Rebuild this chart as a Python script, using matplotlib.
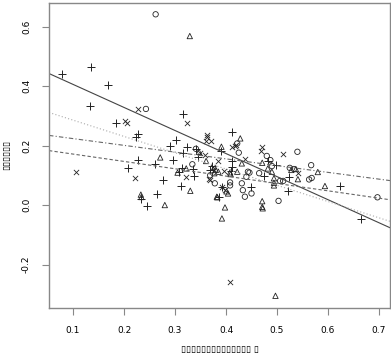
import matplotlib
matplotlib.use("Agg")
import matplotlib.pyplot as plt

# group 1: circles
circ_x = [0.262, 0.243, 0.334, 0.369, 0.378, 0.422, 0.425, 0.540, 0.480, 0.487,
          0.490, 0.567, 0.525, 0.533, 0.563, 0.568, 0.697, 0.443, 0.446, 0.440,
          0.465, 0.506, 0.512, 0.408, 0.408, 0.431, 0.433, 0.450, 0.437, 0.503,
          0.341]
circ_y = [0.641, 0.323, 0.137, 0.100, 0.073, 0.207, 0.176, 0.179, 0.165, 0.151,
          0.131, 0.134, 0.125, 0.121, 0.086, 0.091, 0.026, 0.112, 0.109, 0.095,
          0.107, 0.081, 0.081, 0.076, 0.066, 0.073, 0.050, 0.039, 0.028, 0.014,
          0.189]

# group 2: triangles
tri_x = [0.329, 0.271, 0.347, 0.361, 0.305, 0.322, 0.380, 0.330, 0.233, 0.234,
         0.280, 0.382, 0.428, 0.391, 0.431, 0.471, 0.482, 0.580, 0.528, 0.537,
         0.541, 0.594, 0.385, 0.377, 0.408, 0.409, 0.422, 0.494, 0.494, 0.494,
         0.404, 0.383, 0.471, 0.471, 0.472, 0.398, 0.392, 0.497, 0.490, 0.401]
tri_y = [0.568, 0.160, 0.179, 0.148, 0.109, 0.123, 0.118, 0.048, 0.035, 0.027,
         0.000, 0.028, 0.224, 0.196, 0.140, 0.142, 0.123, 0.111, 0.118, 0.121,
         0.087, 0.064, 0.112, 0.107, 0.110, 0.104, 0.112, 0.090, 0.075, 0.066,
         0.039, 0.026, 0.013, -0.006, -0.011, -0.008, -0.045, -0.305, 0.112, 0.046]

# group 3: pluses
plus_x = [0.078, 0.135, 0.168, 0.134, 0.316, 0.184, 0.227, 0.224, 0.302, 0.290,
          0.323, 0.341, 0.316, 0.345, 0.297, 0.228, 0.261, 0.208, 0.313, 0.308,
          0.336, 0.337, 0.373, 0.369, 0.277, 0.312, 0.265, 0.233, 0.246, 0.412,
          0.390, 0.483, 0.411, 0.412, 0.498, 0.524, 0.623, 0.665, 0.410, 0.475,
          0.392, 0.386, 0.450, 0.522]
plus_y = [0.440, 0.464, 0.403, 0.334, 0.305, 0.277, 0.239, 0.229, 0.218, 0.199,
          0.195, 0.188, 0.176, 0.160, 0.150, 0.150, 0.137, 0.123, 0.125, 0.111,
          0.120, 0.097, 0.131, 0.118, 0.083, 0.064, 0.037, 0.021, -0.002, 0.246,
          0.182, 0.149, 0.148, 0.129, 0.133, 0.093, 0.063, -0.046, 0.114, 0.097,
          0.059, 0.028, 0.059, 0.048]

# group 4: crosses
x_x = [0.228, 0.324, 0.202, 0.206, 0.362, 0.363, 0.371, 0.360, 0.106, 0.221,
       0.322, 0.367, 0.411, 0.420, 0.470, 0.469, 0.511, 0.385, 0.438, 0.349,
       0.359, 0.541, 0.375, 0.376, 0.396, 0.369, 0.398, 0.407, 0.418, 0.392]
x_y = [0.323, 0.276, 0.283, 0.277, 0.236, 0.228, 0.215, 0.216, 0.110, 0.092,
       0.093, 0.086, 0.196, 0.201, 0.196, 0.182, 0.170, 0.149, 0.156, 0.174,
       0.168, 0.109, 0.127, 0.118, 0.116, 0.084, 0.050, -0.260, 0.197, 0.061]

# fitted lines (intercept, slope)
fit_icpt = [0.483, 0.340, 0.246, 0.196]
fit_slope = [-0.775, -0.547, -0.227, -0.247]
fit_style = ["-", (0, (1, 2)), (0, (4, 2, 1, 2)), (0, (3, 2))]
fit_color = ["#444444", "#aaaaaa", "#666666", "#666666"]

xticks = [0.1, 0.2, 0.3, 0.4, 0.5, 0.6, 0.7]
xticklabels = ["0.1", "0.2", "0.3", "0.4", "0.5", "0.6", "0.7"]
yticks = [0.6, 0.4, 0.2, 0.0, -0.2]
yticklabels = ["0.6", "0.4", "0.2", "0.0", "-0.2"]

fig = plt.figure(figsize=(3.91, 3.53), dpi=100)
ax = fig.add_axes([49 / 391, 45 / 353, 341 / 391, 305 / 353])

mk = dict(facecolors="none", edgecolors="#222222", linewidths=0.6, s=15)
ax.scatter(circ_x, circ_y, marker="o", **mk)
ax.scatter(tri_x, tri_y, marker="^", **mk)
ax.scatter(plus_x, plus_y, marker="+", c="#222222", linewidths=0.7, s=28)
ax.scatter(x_x, x_y, marker="x", c="#222222", linewidths=0.6, s=14)

for a, b, ls, col in zip(fit_icpt, fit_slope, fit_style, fit_color):
    ax.axline((0, a), slope=b, linestyle=ls, color=col, linewidth=0.8)

ax.set_xlim(0.0529, 0.7216)
ax.set_ylim(-0.346, 0.679)

ax.set_xticks(xticks)
ax.set_xticklabels(xticklabels, fontsize=6.5)
ax.set_yticks(yticks)
ax.set_yticklabels(yticklabels, fontsize=6.5, rotation=90, va="center")
ax.tick_params(length=5, width=0.8, color="#888888", pad=8)
for s in ax.spines.values():
    s.set_color("#888888")
    s.set_linewidth(1.0)

ax.set_xlabel("\u25af" * 14 + " \u25af", fontsize=6.5, labelpad=6)
ax.set_ylabel("\u25af" * 6, fontsize=6.5, labelpad=10)
ax.xaxis.set_label_coords(0.5, -0.12)
ax.yaxis.set_label_coords(-0.11, 0.5)

fig.savefig("out.png", dpi=100)
